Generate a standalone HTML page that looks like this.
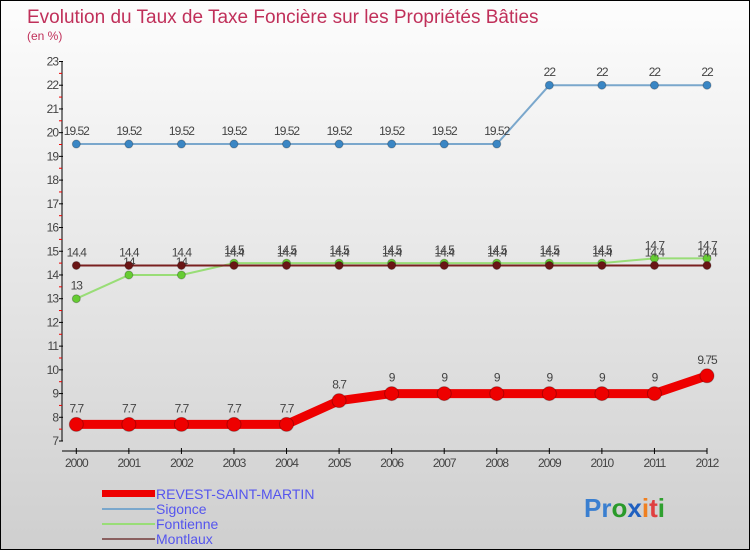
<!DOCTYPE html>
<html><head><meta charset="utf-8"><style>
body{margin:0;}
#c{width:750px;height:550px;position:relative;overflow:hidden;box-sizing:border-box;border:1px solid #000;background:linear-gradient(#fdfdfd,#cfcfcf);font-family:"Liberation Sans",sans-serif;}
svg{position:absolute;left:0;top:0}
</style></head><body>
<div id="c">
<svg id="s" width="750" height="550">
<text x="26" y="22" font-size="19" fill="#c0305a">Evolution du Taux de Taxe Foncière sur les Propriétés Bâties</text>
<text x="26" y="39" font-size="12" fill="#c0305a">(en %)</text>
<g>
<rect x="101" y="489" width="53" height="7" fill="#e00"/>
<text x="155" y="498" font-size="14" fill="#5555ee">REVEST-SAINT-MARTIN</text>
<line x1="101" y1="508" x2="154" y2="508" stroke="#7aa7cc" stroke-width="2"/>
<text x="155" y="513" font-size="14" fill="#5555ee">Sigonce</text>
<line x1="101" y1="523" x2="154" y2="523" stroke="#99dd77" stroke-width="2"/>
<text x="155" y="528" font-size="14" fill="#5555ee">Fontienne</text>
<line x1="101" y1="538" x2="154" y2="538" stroke="#8a6060" stroke-width="2"/>
<text x="155" y="543" font-size="14" fill="#5555ee">Montlaux</text>
</g>
<g font-size="26" font-weight="bold">
<text x="583" y="516"><tspan fill="#3a7fd0">Pr</tspan><tspan fill="#2a9a2a">o</tspan><tspan fill="#2060c0">x</tspan><tspan fill="#f08020">i</tspan><tspan fill="#e04040">t</tspan><tspan fill="#30a030">i</tspan></text>
</g>
</svg>
</div>
<script>
const years=[2000,2001,2002,2003,2004,2005,2006,2007,2008,2009,2010,2011,2012];
const yTicks=[7,8,9,10,11,12,13,14,15,16,17,18,19,20,21,22,23];
const revest=[7.7,7.7,7.7,7.7,7.7,8.7,9,9,9,9,9,9,9.75];
const sigonce=[19.52,19.52,19.52,19.52,19.52,19.52,19.52,19.52,19.52,22,22,22,22];
const fontienne=[13,14,14,14.5,14.5,14.5,14.5,14.5,14.5,14.5,14.5,14.7,14.7];
const montlaux=[14.4,14.4,14.4,14.4,14.4,14.4,14.4,14.4,14.4,14.4,14.4,14.4,14.4];
const NS="http://www.w3.org/2000/svg";
const svg=document.getElementById('s');
const X=i=>75.3+i*(706-75.3)/(years.length-1);
const Y=v=>440-(v-7)*(440-60.5)/16;
function mk(t,a,p){const e=document.createElementNS(NS,t);for(const k in a)e.setAttribute(k,a[k]);(p||svg).appendChild(e);return e;}
const ax=mk('g',{});


let l=mk('line',{x1:61,y1:Y(23),x2:61,y2:Y(7),stroke:'#000','stroke-width':1},ax);


l=mk('line',{x1:61,y1:450,x2:706,y2:450,stroke:'#000','stroke-width':1},ax);


yTicks.forEach(v=>{
 const y=Y(v);
 mk('line',{x1:58,y1:y,x2:62,y2:y,stroke:'#000'},ax);
 if(v<23)mk('line',{x1:58,y1:Y(v+0.5),x2:61,y2:Y(v+0.5),stroke:'#e00'},ax);
 const t=mk('text',{x:57,y:y+4,'font-size':12,fill:'#444','text-anchor':'end','letter-spacing':'-1'},ax);
 t.textContent=v;
 
 
});
years.forEach((yr,i)=>{
 const x=X(i);
 mk('line',{x1:x,y1:447,x2:x,y2:453,stroke:'#000'},ax);
 const t=mk('text',{x:x,y:466,'font-size':12,fill:'#444','text-anchor':'middle','letter-spacing':'-1'},ax);
 t.textContent=yr;
 
 
});
function series(name,data,color,dot,w,r,labOff){
 const g=mk('g',{});
 
 
 const p=mk('polyline',{points:data.map((v,i)=>X(i)+','+Y(v)).join(' '),fill:'none',stroke:color,'stroke-width':w,'stroke-linejoin':'round'},g);
 
 
 data.forEach((v,i)=>{
  const c=mk('circle',{cx:X(i),cy:Y(v),r:r,fill:dot,stroke:'rgba(0,0,0,0.25)'},g);
  
  
  const t=mk('text',{x:X(i),y:Y(v)-labOff,'font-size':12,fill:'#444','text-anchor':'middle','letter-spacing':'-1'},g);
  t.textContent=String(v).replace('.', '.');
  
  
 });
}
series('sigonce',sigonce,'#7aa7cc','#3a86c4',2,4,9);
series('fontienne',fontienne,'#99dd77','#66cc33',2,4,9);
series('montlaux',montlaux,'#7a2020','#6a1515',2,4,9);
series('revest',revest,'#ee0000','#ee0000',9,7,12);
</script>
</body></html>
